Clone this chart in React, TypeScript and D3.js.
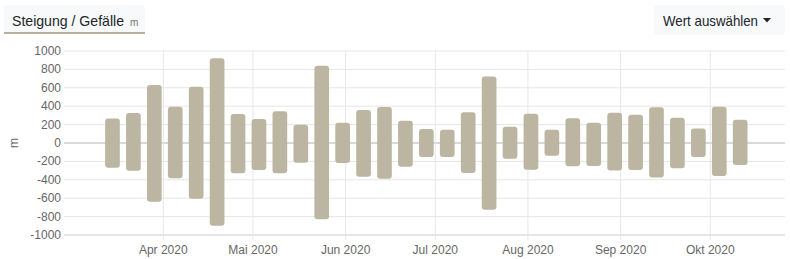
import React from "react";
import * as d3 from "d3";

const weekStarts = [
  "2020-03-15","2020-03-22","2020-03-29","2020-04-05","2020-04-12","2020-04-19","2020-04-26",
  "2020-05-03","2020-05-10","2020-05-17","2020-05-24","2020-05-31","2020-06-07","2020-06-14",
  "2020-06-21","2020-06-28","2020-07-05","2020-07-12","2020-07-19","2020-07-26","2020-08-02",
  "2020-08-09","2020-08-16","2020-08-23","2020-08-30","2020-09-06","2020-09-13","2020-09-20",
  "2020-09-27","2020-10-04","2020-10-11",
];
const ascent = [265,326,630,395,612,920,315,261,344,199,840,220,358,390,243,152,145,333,724,177,317,145,268,220,330,306,388,275,158,395,253];
const descent = [-270,-301,-638,-384,-605,-899,-330,-293,-330,-214,-829,-218,-366,-388,-257,-152,-152,-326,-725,-171,-290,-138,-254,-250,-300,-293,-374,-275,-152,-358,-240];
const yTicks = [-1000,-800,-600,-400,-200,0,200,400,600,800,1000];
const monthTicks = ["2020-04-01","2020-05-01","2020-06-01","2020-07-01","2020-08-01","2020-09-01","2020-10-01"];
const monthNames = ["Jan","Feb","Mär","Apr","Mai","Jun","Jul","Aug","Sep","Okt","Nov","Dez"];

const W = 790, H = 259;
const plotLeft = 64, plotRight = 785, plotTop = 51, plotBottom = 235;
const FONT = "'Liberation Sans', Arial, sans-serif";

export default function App() {
  const parse = d3.utcParse("%Y-%m-%d");
  const x = d3.scaleUtc()
    .domain([parse("2020-04-01")!, parse("2020-10-01")!])
    .range([163.3, 710.3]);
  const y = d3.scaleLinear().domain([-1000, 1000]).range([plotBottom, plotTop]);
  const barW = 14.7;
  const fmt = (d: Date) => `${monthNames[d.getUTCMonth()]} ${d.getUTCFullYear()}`;

  return (
    <svg width={W} height={H} style={{ position: "absolute", left: 0, top: 0, fontFamily: FONT }}>
      {/* buttons */}
      <rect x={4} y={5} width={141} height={29} rx={3} fill="#f8f9fa" />
      <rect x={4} y={32} width={141} height={2} fill="#b9b19c" />
      <text x={12} y={26} fontSize={14.5} fill="#212529" textLength={112} lengthAdjust="spacingAndGlyphs">Steigung / Gefälle</text>
      <text x={130} y={26} fontSize={10} fill="#777">m</text>

      <rect x={654} y={5} width={131} height={30} rx={3} fill="#f8f9fa" />
      <text x={663} y={26} fontSize={14.5} fill="#212529" textLength={95} lengthAdjust="spacingAndGlyphs">Wert auswählen</text>
      <path d="M763,18 L771,18 L767,22.5 Z" fill="#212529" />

      {/* horizontal grid */}
      {yTicks.map((t) => (
        <line key={t} x1={plotLeft} x2={plotRight} y1={y(t)} y2={y(t)}
          stroke={t === 0 ? "#b3b3b3" : t === -1000 ? "#ccc" : "#e6e6e6"} strokeWidth={1} />
      ))}
      {/* vertical grid */}
      {monthTicks.map((m) => {
        const xx = x(parse(m)!);
        return (
          <g key={m}>
            <line x1={xx} x2={xx} y1={plotTop} y2={plotBottom + 5} stroke="#e6e6e6" />
            <text x={xx} y={254} fontSize={12} fill="#666" textAnchor="middle">{fmt(parse(m)!)}</text>
          </g>
        );
      })}
      {/* y labels */}
      {yTicks.map((t) => (
        <text key={t} x={61} y={y(t) + 4} fontSize={12} fill="#666" textAnchor="end">{t}</text>
      ))}
      <text transform={`translate(18,${y(0)}) rotate(-90)`} fontSize={12} fill="#666" textAnchor="middle">m</text>

      {/* bars */}
      {weekStarts.map((d, i) => {
        const cx = x(parse(d)!);
        const top = y(ascent[i]);
        const bot = y(descent[i]);
        return (
          <rect key={d} x={cx - barW / 2} y={top} width={barW} height={bot - top} rx={3}
            fill="#bcb5a1" />
        );
      })}
    </svg>
  );
}
